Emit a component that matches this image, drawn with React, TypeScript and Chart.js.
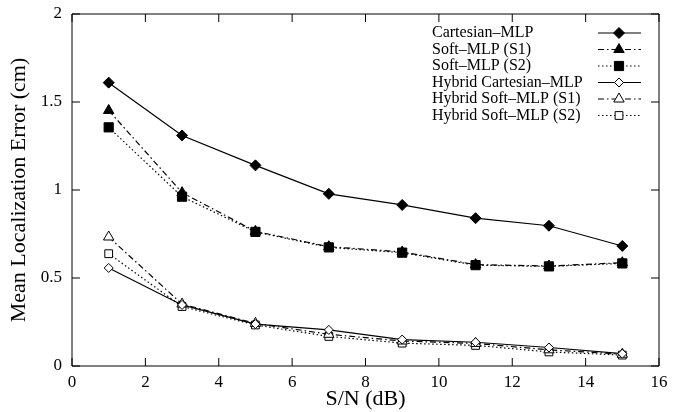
import React, { useEffect, useRef } from "react";
import { Chart, registerables } from "chart.js";

Chart.register(...registerables);

const snrDb = [1, 3, 5, 7, 9, 11, 13, 15];
const cartesianMLP = [1.61, 1.31, 1.14, 0.978, 0.915, 0.84, 0.797, 0.682];
const softMLP_S1 = [1.452, 0.985, 0.765, 0.678, 0.648, 0.576, 0.568, 0.587];
const softMLP_S2 = [1.356, 0.962, 0.762, 0.674, 0.644, 0.573, 0.566, 0.583];
const hybridCartesianMLP = [0.557, 0.347, 0.238, 0.205, 0.15, 0.135, 0.105, 0.07];
const hybridSoftMLP_S1 = [0.733, 0.352, 0.242, 0.18, 0.142, 0.128, 0.092, 0.067];
const hybridSoftMLP_S2 = [0.638, 0.338, 0.233, 0.168, 0.13, 0.117, 0.08, 0.062];
const seriesNames = [
  "Cartesian\u2013MLP",
  "Soft\u2013MLP (S1)",
  "Soft\u2013MLP (S2)",
  "Hybrid Cartesian\u2013MLP",
  "Hybrid Soft\u2013MLP (S1)",
  "Hybrid Soft\u2013MLP (S2)",
];
const xTicks = [0, 2, 4, 6, 8, 10, 12, 14, 16];
const yTicks = [0, 0.5, 1, 1.5, 2];

const FONT = "'Liberation Serif', 'Times New Roman', serif";
const DASH_DOT = [6, 3, 1.5, 3];
const DOTTED = [1.5, 2.5];

type Style = { dash: number[]; point: string; fill: string; radius: number };
const styles: Style[] = [
  { dash: [], point: "rectRot", fill: "#000", radius: 5.5 },
  { dash: DASH_DOT, point: "triangle", fill: "#000", radius: 6 },
  { dash: DOTTED, point: "rect", fill: "#000", radius: 6.5 },
  { dash: [], point: "rectRot", fill: "#fff", radius: 4.5 },
  { dash: DASH_DOT, point: "triangle", fill: "#fff", radius: 6 },
  { dash: DOTTED, point: "rect", fill: "#fff", radius: 5.5 },
];

function drawMarker(ctx: CanvasRenderingContext2D, kind: string, x: number, y: number, r: number, fill: string) {
  ctx.save();
  ctx.setLineDash([]);
  ctx.fillStyle = fill;
  ctx.strokeStyle = "#000";
  ctx.lineWidth = 1;
  ctx.beginPath();
  if (kind === "rectRot") {
    ctx.moveTo(x, y - r);
    ctx.lineTo(x + r, y);
    ctx.lineTo(x, y + r);
    ctx.lineTo(x - r, y);
    ctx.closePath();
  } else if (kind === "triangle") {
    const s = r * Math.sqrt(3) / 2;
    ctx.moveTo(x, y - r);
    ctx.lineTo(x + s, y + r / 2);
    ctx.lineTo(x - s, y + r / 2);
    ctx.closePath();
  } else {
    const h = r * Math.SQRT1_2;
    ctx.rect(x - h, y - h, 2 * h, 2 * h);
  }
  ctx.fill();
  ctx.stroke();
  ctx.restore();
}

const framePlugin = {
  id: "frameTicks",
  afterDraw(chart: any) {
    const { ctx, chartArea } = chart;
    const { left, right, top, bottom } = chartArea;
    const xs = chart.scales.x;
    const ys = chart.scales.y;
    const len = 8;
    ctx.save();
    ctx.strokeStyle = "#000";
    ctx.lineWidth = 1;
    ctx.setLineDash([]);
    ctx.beginPath();
    ctx.rect(left, top, right - left, bottom - top);
    for (const v of xTicks) {
      const px = xs.getPixelForValue(v);
      ctx.moveTo(px, bottom);
      ctx.lineTo(px, bottom - len);
      ctx.moveTo(px, top);
      ctx.lineTo(px, top + len);
    }
    for (const v of yTicks) {
      const py = ys.getPixelForValue(v);
      ctx.moveTo(left, py);
      ctx.lineTo(left + len, py);
      ctx.moveTo(right, py);
      ctx.lineTo(right - len, py);
    }
    ctx.stroke();

    // legend
    const textX = 432;
    const lineX0 = 598;
    const lineX1 = 641;
    const y0 = 33;
    const dy = 16.5;
    ctx.font = `16px ${FONT}`;
    ctx.fillStyle = "#000";
    ctx.textBaseline = "middle";
    ctx.textAlign = "left";
    chart.data.datasets.forEach((ds: any, i: number) => {
      const y = y0 + i * dy;
      ctx.fillText(seriesNames[i], textX, y);
      const st = styles[i];
      ctx.save();
      ctx.setLineDash(st.dash);
      ctx.lineWidth = 1.2;
      ctx.beginPath();
      ctx.moveTo(lineX0, y);
      ctx.lineTo(lineX1, y);
      ctx.stroke();
      ctx.restore();
      drawMarker(ctx, st.point, 619, y, st.radius, st.fill);
    });
    ctx.restore();
  },
};

const allSeries = [cartesianMLP, softMLP_S1, softMLP_S2, hybridCartesianMLP, hybridSoftMLP_S1, hybridSoftMLP_S2];

export default function App() {
  const ref = useRef<HTMLCanvasElement | null>(null);
  useEffect(() => {
    if (!ref.current) return;
    const datasets = allSeries.map((vals, i) => ({
      label: seriesNames[i],
      data: vals.map((v, j) => ({ x: snrDb[j], y: v })),
      borderColor: "#000",
      borderWidth: 1.2,
      borderDash: styles[i].dash,
      pointStyle: styles[i].point,
      pointRadius: styles[i].radius,
      pointBackgroundColor: styles[i].fill,
      pointBorderColor: "#000",
      pointBorderWidth: 1,
      fill: false,
      tension: 0,
    }));
    const chart = new Chart(ref.current, {
      type: "line",
      data: { datasets },
      options: {
        responsive: false,
        animation: false,
        layout: { padding: { top: 14, right: 20, left: 0, bottom: 0 } },
        plugins: { legend: { display: false }, tooltip: { enabled: false } },
        scales: {
          x: {
            type: "linear",
            min: 0,
            max: 16,
            afterBuildTicks: (s: any) => { s.ticks = xTicks.map((v) => ({ value: v })); },
            afterFit: (s: any) => { s.height = 46; s.paddingLeft = 0; s.paddingRight = 0; },
            grid: { display: false, drawTicks: false },
            border: { display: false },
            ticks: { color: "#000", padding: 6, font: { family: FONT, size: 17 }, maxRotation: 0, callback: (v: any) => String(v) },
            title: { display: true, text: "S/N (dB)", color: "#000", padding: { top: 0, bottom: 0 }, font: { family: FONT, size: 22 } },
          },
          y: {
            type: "linear",
            min: 0,
            max: 2,
            afterBuildTicks: (s: any) => { s.ticks = yTicks.map((v) => ({ value: v })); },
            afterFit: (s: any) => { s.width = 72; s.paddingTop = 0; s.paddingBottom = 0; },
            grid: { display: false, drawTicks: false },
            border: { display: false },
            ticks: { color: "#000", padding: 10, font: { family: FONT, size: 17 }, callback: (v: any) => String(v) },
            title: { display: true, text: "Mean Localization Error (cm)", color: "#000", padding: { top: 6, bottom: 0 }, font: { family: FONT, size: 22 } },
          },
        },
      },
      plugins: [framePlugin],
    });
    return () => chart.destroy();
  }, []);
  return (
    <div style={{ position: "absolute", left: 0, top: 0, width: 679, height: 412, background: "#fff" }}>
      <canvas ref={ref} width={679} height={412} style={{ display: "block" }} />
    </div>
  );
}
